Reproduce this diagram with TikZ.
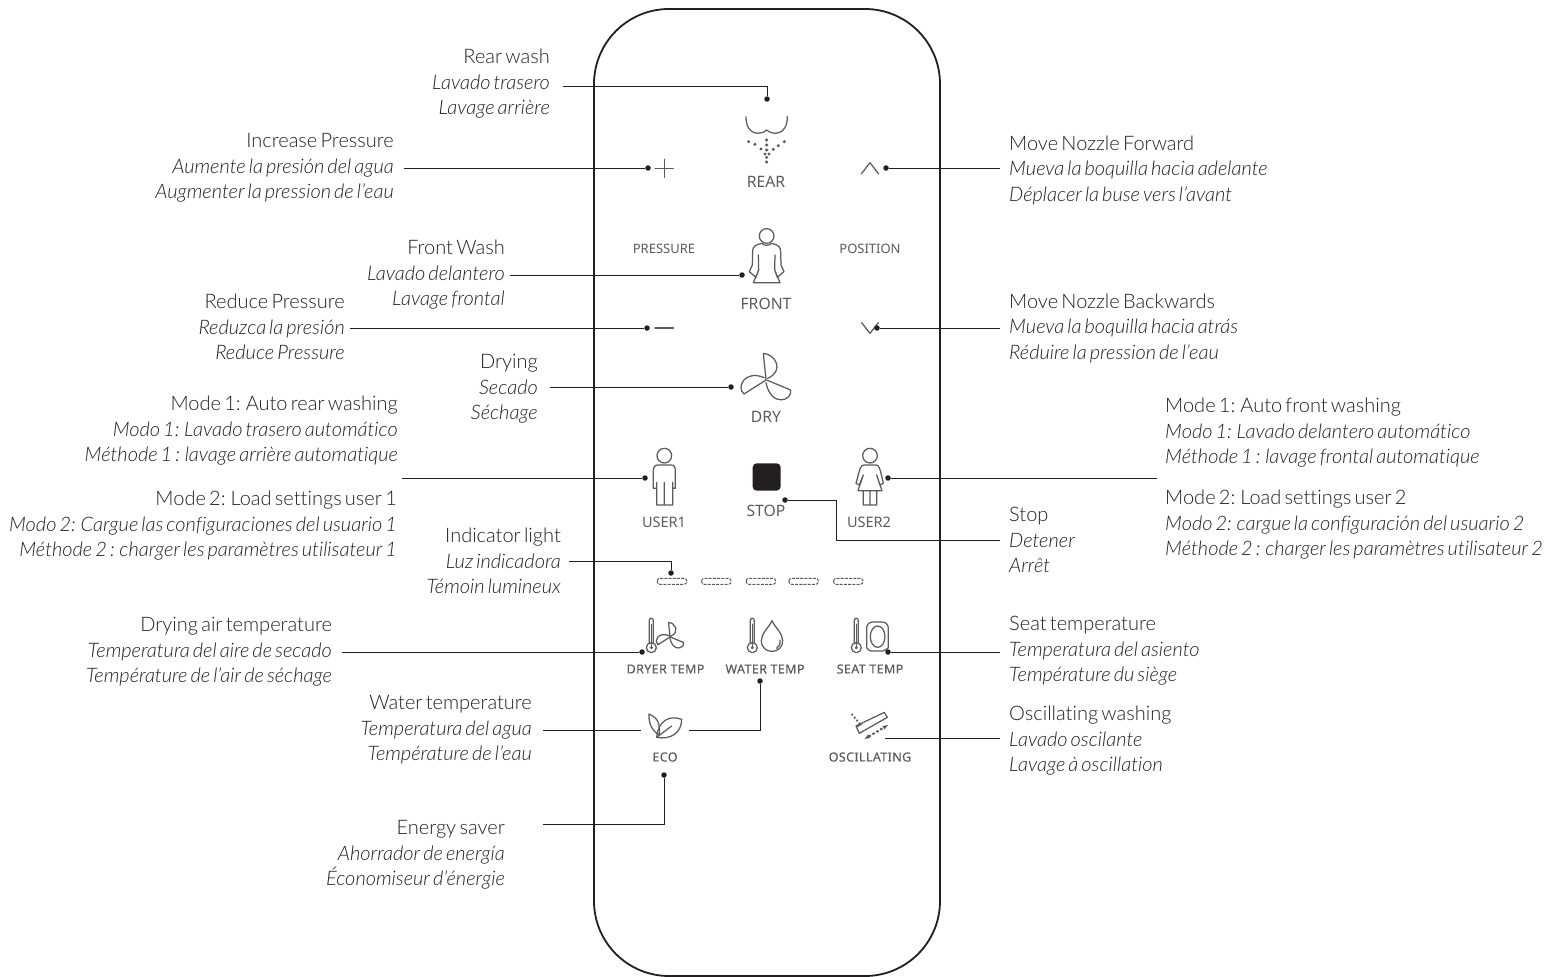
\documentclass[tikz,border=0pt]{standalone}
\usepackage{fontspec}
\usetikzlibrary{arrows.meta}
\setmainfont[WordSpace=0.6,Ligatures=NoCommon]{Lato Light}
\newfontfamily\panelfont{Noto Sans}
\newfontfamily\smallfont[LetterSpace=3,FakeBold=0.2]{Noto Sans}
\definecolor{wirecol}{HTML}{231F20}
\definecolor{icongray}{HTML}{5A5B5E}
\definecolor{textcol}{HTML}{231F20}
\newcommand{\threelines}[3]{#1\\\textit{#2}\\\textit{#3}}
\tikzset{
  lblleft/.style={anchor=east,align=right,inner sep=0pt,yshift=-2pt,text=textcol,font=\fontsize{20}{25.5}\selectfont},
  lblright/.style={anchor=west,align=left,inner sep=0pt,yshift=-2pt,text=textcol,font=\fontsize{20}{25.5}\selectfont},
  wire/.style={draw=wirecol,line width=0.9pt},
  pin/.style={circle,fill=wirecol,inner sep=0pt,minimum size=5.5pt},
  btnbig/.style={inner sep=0pt,text=icongray,font=\panelfont\fontsize{15.7}{18}\selectfont},
  btnmid/.style={inner sep=0pt,text=icongray,font=\panelfont\fontsize{13}{16}\selectfont},
  btnuser/.style={inner sep=0pt,text=icongray,font=\panelfont\fontsize{14.5}{16}\selectfont},
  btnsmall/.style={inner sep=0pt,text=icongray,font=\smallfont\fontsize{12.5}{15}\selectfont},
  ico/.style={draw=icongray,line width=1.25pt,line join=round,line cap=round},
  zoomtop/.style={shift={(620,80)},scale=0.3333},
  zoommid/.style={shift={(620,320)},scale=0.3333},
  zoomlow/.style={shift={(620,600)},scale=0.3333},
  fanicon/.pic={
    \draw[ico] (0,0) -- (-8,-78) .. controls (30,-75) and (55,-25) .. (5,-3);
    \draw[ico] (0,2) -- (-66,44) .. controls (-90,25) and (-65,-30) .. (-5,-5);
    \draw[ico] (2,2) -- (74,32) .. controls (80,65) and (15,85) .. (0,10);
  },
  thermo/.pic={
    \draw[ico] (0,0) circle (15);
    \fill[icongray] (0,0) circle (5);
    \draw[ico] (0,-70) -- (0,0);
    \draw[ico] (-6,-13) -- (-6,-81) .. controls (-6,-91) and (6,-91) .. (6,-81) -- (6,-13);
  },
}
\begin{document}
\begin{tikzpicture}[x=1pt,y=-1pt]
\useasboundingbox (0,0) rectangle (1559,977);
\draw[wirecol,line width=1.8pt,rounded corners=75pt] (594,9) rectangle (940,976);

% labels on the left
\node[lblleft] (lblrear) at (550,82) {\threelines{Rear wash}{Lavado trasero}{Lavage arrière}};
\node[lblleft] (lblinc) at (394,166) {\threelines{Increase Pressure}{Aumente la presión del agua}{Augmenter la pression de l'eau}};
\node[lblleft] (lblfront) at (505,273) {\threelines{Front Wash}{Lavado delantero}{Lavage frontal}};
\node[lblleft] (lblred) at (345,325) {\threelines{Reduce Pressure}{Reduzca la presión}{Reduce Pressure}};
\node[lblleft] (lbldry) at (538,387) {\threelines{Drying}{Secado}{Séchage}};
\node[lblleft] (lblmodea) at (398,429) {\threelines{Mode 1: Auto rear washing}{Modo 1: Lavado trasero automático}{Méthode 1 : lavage arrière automatique}};
\node[lblleft] (lblmodeb) at (397,524) {\threelines{Mode 2: Load settings user 1}{Modo 2: Cargue las configuraciones del usuario 1}{Méthode 2 : charger les paramètres utilisateur 1}};
\node[lblleft] (lblind) at (561,559) {\threelines{Indicator light}{Luz indicadora}{Témoin lumineux}};
\node[lblleft] (lblair) at (332,650) {\threelines{Drying air temperature}{Temperatura del aire de secado}{Température de l'air de séchage}};
\node[lblleft] (lblwater) at (532,728) {\threelines{Water temperature}{Temperatura del agua}{Température de l'eau}};
\node[lblleft] (lblsaver) at (505,853) {\threelines{Energy saver}{Ahorrador de energía}{Économiseur d'énergie}};

% labels on the right
\node[lblright] (lblfwd) at (1009,168) {\threelines{Move Nozzle Forward}{Mueva la boquilla hacia adelante}{Déplacer la buse vers l'avant}};
\node[lblright] (lblback) at (1009,326) {\threelines{Move Nozzle Backwards}{Mueva la boquilla hacia atrás}{Réduire la pression de l'eau}};
\node[lblright] (lblmodec) at (1165,431) {\threelines{Mode 1: Auto front washing}{Modo 1: Lavado delantero automático}{Méthode 1 : lavage frontal automatique}};
\node[lblright] (lblmoded) at (1165,523) {\threelines{Mode 2: Load settings user 2}{Modo 2: cargue la configuración del usuario 2}{Méthode 2 : charger les paramètres utilisateur 2}};
\node[lblright] (lblstop) at (1009,538) {\threelines{Stop}{Detener}{Arrêt}};
\node[lblright] (lblseat) at (1009,649) {\threelines{Seat temperature}{Temperatura del asiento}{Température du siège}};
\node[lblright] (lblosc) at (1009,739) {\threelines{Oscillating washing}{Lavado oscilante}{Lavage à oscillation}};

% button captions
\node[btnbig] (capRear) at (766,182) {REAR};
\node[btnmid] (capPressure) at (664,249) {PRESSURE};
\node[btnmid] (capPosition) at (870,249) {POSITION};
\node[btnbig] (capFront) at (766,304) {FRONT};
\node[btnbig] (capDry) at (766,417) {DRY};
\node[btnuser] (capUsera) at (664,522) {USER1};
\node[btnbig] (capStop) at (766,511) {STOP};
\node[btnuser] (capUserb) at (869,522) {USER2};
\node[btnsmall] (capDryer) at (665.5,669) {DRYER TEMP};
\node[btnsmall] (capWater) at (765,669) {WATER TEMP};
\node[btnsmall] (capSeat) at (870,669) {SEAT TEMP};
\node[btnsmall] (capEco) at (665,757) {ECO};
\node[btnsmall] (capOsc) at (870,757) {OSCILLATING};

% icons, upper part
\begin{scope}[zoomtop]
\draw[ico] (378,110) .. controls (378,170) and (425,165) .. (440,150) .. controls (455,165) and (502,170) .. (502,110);
\foreach \dx/\dy in {386/185,405/193,423/207,435/222,440/180,440/195,440/210,440/232,440/246,447/222,460/208,475/197,493/185}
  \fill[icongray] (\dx,\dy) circle (5);
\draw[ico,line width=1.5pt] (105,265) -- (160,265) (133,238) -- (133,292);
\draw[ico] (724,282) -- (750,248) -- (776,282);
\draw[ico] (440,468) circle (22);
\draw[ico] (425,490) .. controls (405,495) and (398,500) .. (398,515) -- (397,555) -- (388,575) -- (408,592) -- (416,570) -- (415,525)
  (416,570) -- (400,608) -- (480,608) -- (464,570) -- (465,525)
  (464,570) -- (472,592) -- (492,575) -- (483,555) -- (482,515) .. controls (482,500) and (475,495) .. (455,490) .. controls (448,498) and (432,498) .. (425,490);
\end{scope}

% icons, middle part
\begin{scope}[zoommid]
\draw[ico,line width=1.5pt] (105,24) -- (160,24);
\draw[ico] (725,8) -- (750,40) -- (775,8);
\pic[transform shape] at (438,178) {fanicon};
\draw[ico] (133,407) circle (22);
\draw[ico] (108,505) -- (100,505) -- (100,452) .. controls (100,440) and (105,435) .. (115,435) -- (152,435) .. controls (162,435) and (166,440) .. (166,452) -- (166,505) -- (158,505)
  (110,487) -- (110,555) -- (158,555) -- (158,487) (133,487) -- (133,555);
\draw[ico] (750,407) circle (22);
\draw[ico] (732,435) -- (768,435) .. controls (778,435) and (780,445) .. (790,490) -- (780,495) -- (770,465)
  (732,435) .. controls (722,435) and (720,445) .. (708,490) -- (718,495) -- (730,465) -- (714,512) -- (786,512) -- (770,465)
  (730,512) -- (730,555) -- (770,555) -- (770,512) (750,512) -- (750,555);
\fill[wirecol,rounded corners=4pt] (398,430) rectangle (482,512);
\foreach \px in {112,245,379,507,641}
  \draw[icongray,line width=1pt,dash pattern=on 3pt off 1.2pt,rounded corners=2.5pt] (\px,775) rectangle ++(88,18);
\end{scope}

% icons, lower part
\begin{scope}[zoomlow]
\pic[transform shape] at (94,143) {thermo};
\pic[transform shape] at (397,143) {thermo};
\pic[transform shape] at (709,143) {thermo};
\pic[transform shape,scale=0.55] at (150,110) {fanicon};
\draw[ico] (456,62) .. controls (445,85) and (424,100) .. (424,122) .. controls (424,165) and (488,165) .. (488,122) .. controls (488,100) and (467,85) .. (456,62);
\draw[ico] (480,120) .. controls (482,130) and (478,140) .. (470,145);
\draw[ico,rounded corners=6pt] (740,66) -- (805,66) -- (805,125) .. controls (805,145) and (790,153) .. (770,153) .. controls (750,153) and (740,145) .. (740,125) -- cycle;
\draw[ico] (773,110) ellipse (22 and 32);
\draw[ico] (87,342) .. controls (85,365) and (95,395) .. (118,404) .. controls (120,370) and (115,355) .. (87,342);
\draw[ico] (185,358) .. controls (150,345) and (115,360) .. (110,412) .. controls (150,420) and (185,400) .. (185,358);
\draw[ico] (110,412) -- (155,378);
\draw[ico] (708,378) -- (793,337) -- (802,352) -- (718,400) -- cycle;
\draw[ico] (712,380) -- (725,372);
\draw[icongray,line width=1.8pt,dash pattern=on 1.8pt off 2pt] (695,342) -- (720,372);
\draw[icongray,line width=2pt,dash pattern=on 2.5pt off 2pt,{Latex[length=6pt]}-{Latex[length=6pt]}] (732,418) -- (806,374);
\end{scope}

% pins
\node[pin] (pinrear) at (767,99) {};
\node[pin] (pininc) at (648,168) {};
\node[pin] (pinfront) at (742,275) {};
\node[pin] (pinred) at (647,328) {};
\node[pin] (pindry) at (731,387) {};
\node[pin] (pinusera) at (645,478) {};
\node[pin] (pinfwd) at (886,168) {};
\node[pin] (pinback) at (877,328) {};
\node[pin] (pinuserb) at (888,478) {};
\node[pin] (pinstop) at (785,500) {};
\node[pin] (pinind) at (671,573) {};
\node[pin] (pindryer) at (642,652) {};
\node[pin] (pinseat) at (888,652) {};
\node[pin] (pinwater) at (760,681) {};
\node[pin] (pineco) at (664,775) {};

% free ends
\coordinate (endrear) at (563,86);
\coordinate (endinc) at (404,168);
\coordinate (endfront) at (510,275);
\coordinate (endred) at (350,328);
\coordinate (enddry) at (550,387);
\coordinate (endusera) at (402,478);
\coordinate (endfwd) at (1000,168);
\coordinate (endback) at (1000,328);
\coordinate (enduserb) at (1157,478);
\coordinate (endstop) at (1000,540);
\coordinate (jogstop) at (836,500);
\coordinate (endind) at (569,561);
\coordinate (enddryer) at (342,652);
\coordinate (endseat) at (1000,652);
\coordinate (endwatera) at (543,730);
\coordinate (endwaterb) at (641,730);
\coordinate (endwaterc) at (689,730);
\coordinate (endosca) at (1000,738);
\coordinate (endoscb) at (885,738);
\coordinate (endsaver) at (543,824);

% connectors
\draw[wire] (endrear) -| (pinrear);
\draw[wire] (endinc) -- (pininc);
\draw[wire] (endfront) -- (pinfront);
\draw[wire] (endred) -- (pinred);
\draw[wire] (enddry) -- (pindry);
\draw[wire] (endusera) -- (pinusera);
\draw[wire] (endfwd) -- (pinfwd);
\draw[wire] (endback) -- (pinback);
\draw[wire] (enduserb) -- (pinuserb);
\draw[wire] (endstop) -| (jogstop) -- (pinstop);
\draw[wire] (endind) -| (pinind);
\draw[wire] (enddryer) -- (pindryer);
\draw[wire] (endseat) -- (pinseat);
\draw[wire] (endwatera) -- (endwaterb);
\draw[wire] (endwaterc) -| (pinwater);
\draw[wire] (endosca) -- (endoscb);
\draw[wire] (endsaver) -| (pineco);
\end{tikzpicture}
\end{document}
